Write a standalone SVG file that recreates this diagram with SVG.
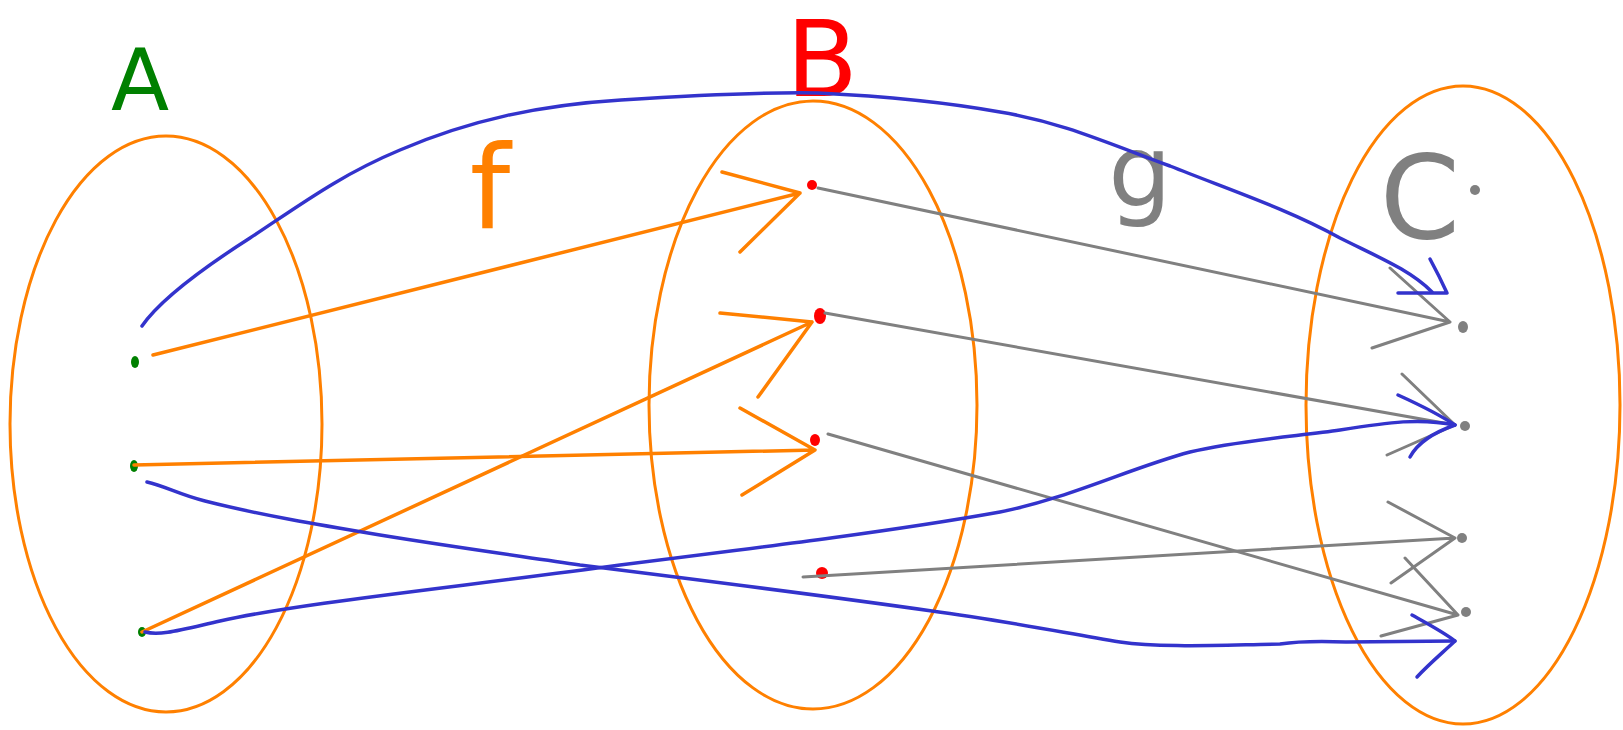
<svg xmlns="http://www.w3.org/2000/svg" width="1623" height="730" viewBox="0 0 1623 730">
<style>
.set{fill:none;stroke:#ff8000;stroke-width:3}
.o{fill:none;stroke:#ff8000;stroke-width:3.5;stroke-linecap:round;stroke-linejoin:round}
.b{fill:none;stroke:#3333cc;stroke-width:3.5;stroke-linecap:round;stroke-linejoin:round}
.g{fill:none;stroke:#808080;stroke-width:3;stroke-linecap:round;stroke-linejoin:round}
.lbl{font-family:"DejaVu Sans","Liberation Sans",sans-serif;text-anchor:middle}
</style>
<rect width="1623" height="730" fill="#ffffff"/>
<g id="setA">
  <ellipse class="set" cx="166" cy="424" rx="156" ry="288"/>
  <text class="lbl" x="140" y="110" font-size="85" fill="#008000">A</text>
  <ellipse cx="135" cy="362" rx="4" ry="6" fill="#008000"/>
  <ellipse cx="134" cy="466" rx="4" ry="6" fill="#008000"/>
  <ellipse cx="142" cy="632" rx="4" ry="5" fill="#008000"/>
</g>
<g id="setB">
  <ellipse class="set" cx="813" cy="405" rx="164" ry="304"/>
  <text class="lbl" x="822" y="96" font-size="105" fill="#ff0000">B</text>
  <ellipse cx="812" cy="185" rx="5" ry="5" fill="#ff0000"/>
  <ellipse cx="820" cy="316" rx="6" ry="8" fill="#ff0000"/>
  <ellipse cx="815" cy="440" rx="5" ry="6" fill="#ff0000"/>
  <ellipse cx="822" cy="573" rx="6" ry="6" fill="#ff0000"/>
</g>
<g id="setC">
  <ellipse class="set" cx="1463" cy="405" rx="157" ry="319"/>
  <text class="lbl" x="1420" y="238" font-size="115" fill="#808080">C</text>
  <ellipse cx="1475" cy="190" rx="5" ry="5" fill="#808080"/>
  <ellipse cx="1463" cy="327" rx="5" ry="6" fill="#808080"/>
  <ellipse cx="1465" cy="426" rx="5" ry="5" fill="#808080"/>
  <ellipse cx="1462" cy="538" rx="5" ry="5" fill="#808080"/>
  <ellipse cx="1466" cy="612" rx="5" ry="5" fill="#808080"/>
</g>
<g id="labels">
  <text class="lbl" x="490" y="228" font-size="115" fill="#ff8000">f</text>
  <text class="lbl" x="1140" y="206" font-size="100" fill="#808080">g</text>
</g>
<g id="connectors">
  <!-- f: A to B -->
  <path class="o" d="M153,355 L800,193 M722,172 L800,193 L740,252"/>
  <path class="o" d="M134,465 L815,450 M740,408 L815,450 L742,495"/>
  <path class="o" d="M142,632 L812,322 M720,313 L812,322 L758,397"/>
  <!-- g: B to C -->
  <path class="g" d="M818,188 L1450,322 M1390,268 L1450,322 L1372,348"/>
  <path class="g" d="M825,313 L1455,425 M1402,374 L1455,425 L1387,455"/>
  <path class="g" d="M828,434 L1458,615 M1405,558 L1458,615 L1381,636"/>
  <path class="g" d="M803,577 L1455,538 M1388,502 L1455,538 L1391,583"/>
  <!-- composition g∘f -->
  <path class="b" d="M142,326 C160,300 200,270 250,238 C300,205 340,175 400,150 C470,120 540,105 621,100 C700,95 760,92 818,93 C900,97 950,103 1000,112 C1060,122 1100,140 1170,166 C1230,190 1290,210 1340,238 C1380,258 1410,270 1432,292"/>
  <path class="b" d="M1398,293 L1447,293 M1430,259 C1436,270 1442,282 1447,293"/>
  <path class="b" d="M145,632 C160,636 180,630 220,621 C300,603 450,588 620,565 C780,545 900,530 1000,512 C1070,498 1130,468 1190,452 C1240,440 1300,436 1340,430 C1390,422 1420,418 1455,425"/>
  <path class="b" d="M1398,395 C1420,405 1440,415 1455,425 C1435,432 1418,442 1410,457"/>
  <path class="b" d="M147,482 C165,486 180,495 205,501 C260,515 320,525 380,535 C460,548 520,556 580,565 C700,580 820,595 932,611 C1000,620 1060,632 1120,642 C1160,648 1220,645 1280,644 C1300,641 1320,641 1346,642 L1455,641"/>
  <path class="b" d="M1412,615 C1430,625 1445,633 1455,641 C1440,655 1428,665 1417,677"/>
</g>
</svg>
